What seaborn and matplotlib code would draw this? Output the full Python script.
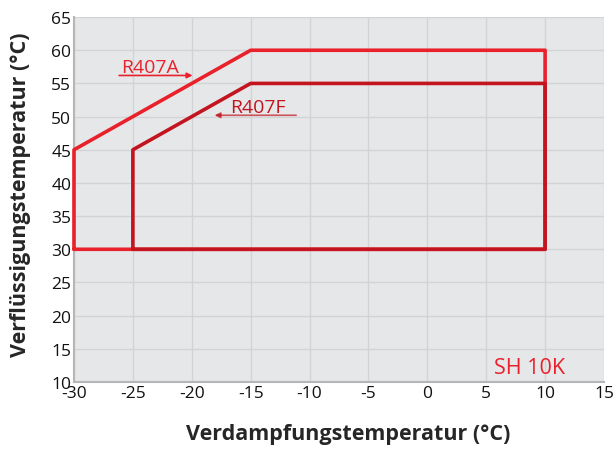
import matplotlib
matplotlib.use("Agg")
import matplotlib.pyplot as plt
import seaborn as sns
import pandas as pd

# Data
r407a_x = [-30, -30, -15, 10, 10, -30]
r407a_y = [30, 45, 60, 60, 30, 30]
r407f_x = [-25, -25, -15, 10, 10, -25]
r407f_y = [30, 45, 55, 55, 30, 30]
x_ticks = [-30, -25, -20, -15, -10, -5, 0, 5, 10, 15]
y_ticks = [10, 15, 20, 25, 30, 35, 40, 45, 50, 55, 60, 65]

col_a = "#e8212b"
col_f = "#c3141f"

sns.set_theme(style="whitegrid")
plt.rcParams['font.family'] = ['Open Sans', 'DejaVu Sans']

fig = plt.figure(figsize=(6.14, 4.52), dpi=100)
ax = fig.add_axes([0.1205, 0.1527, 0.8632, 0.8073])
ax.set_facecolor("#e6e7e9")

df_a = pd.DataFrame({"x": r407a_x, "y": r407a_y})
df_f = pd.DataFrame({"x": r407f_x, "y": r407f_y})
sns.lineplot(data=df_a, x="x", y="y", sort=False, estimator=None, color=col_a, lw=2.6, ax=ax)
sns.lineplot(data=df_f, x="x", y="y", sort=False, estimator=None, color=col_f, lw=2.6, ax=ax)
for ln in ax.lines:
    ln.set_clip_on(False)
    ln.set_zorder(5)

ax.set_xlim(-30, 15)
ax.set_ylim(10, 65)
ax.set_xticks(x_ticks)
ax.set_yticks(y_ticks)
ax.set_xticklabels([str(v) for v in x_ticks])
ax.set_yticklabels([str(v) for v in y_ticks])
ax.tick_params(axis="both", labelsize=12.5, colors="#111111", length=0, pad=2)
ax.grid(True, color="#d2d3d5", lw=1)
for s in ["top", "right"]:
    ax.spines[s].set_visible(False)
for s in ["left", "bottom"]:
    ax.spines[s].set_color("#b5b6b8")
    ax.spines[s].set_linewidth(1.5)

ax.set_xlabel("Verdampfungstemperatur (°C)", fontsize=15.5, fontweight="bold")
ax.set_ylabel("Verflüssigungstemperatur (°C)", fontsize=15.5, fontweight="bold")
ax.xaxis.set_label_coords(0.517, -0.112)
ax.yaxis.set_label_coords(-0.082, 0.515)

# Annotations
ax.text(-23.5, 57.5, "R407A", color=col_a, fontsize=14, ha="center", va="center")
ax.annotate("", xy=(-19.7, 56.2), xytext=(-26.4, 56.2),
            arrowprops=dict(arrowstyle="-|>", color=col_a, lw=1.2, mutation_scale=8))
ax.text(-14.4, 51.5, "R407F", color=col_f, fontsize=14, ha="center", va="center")
ax.annotate("", xy=(-18.3, 50.2), xytext=(-10.9, 50.2),
            arrowprops=dict(arrowstyle="-|>", color=col_f, lw=1.2, mutation_scale=8, alpha=0.7))
ax.text(11.7, 12.2, "SH 10K", color=col_a, fontsize=15.5, ha="right", va="center")

fig.savefig("out.png", dpi=100)
